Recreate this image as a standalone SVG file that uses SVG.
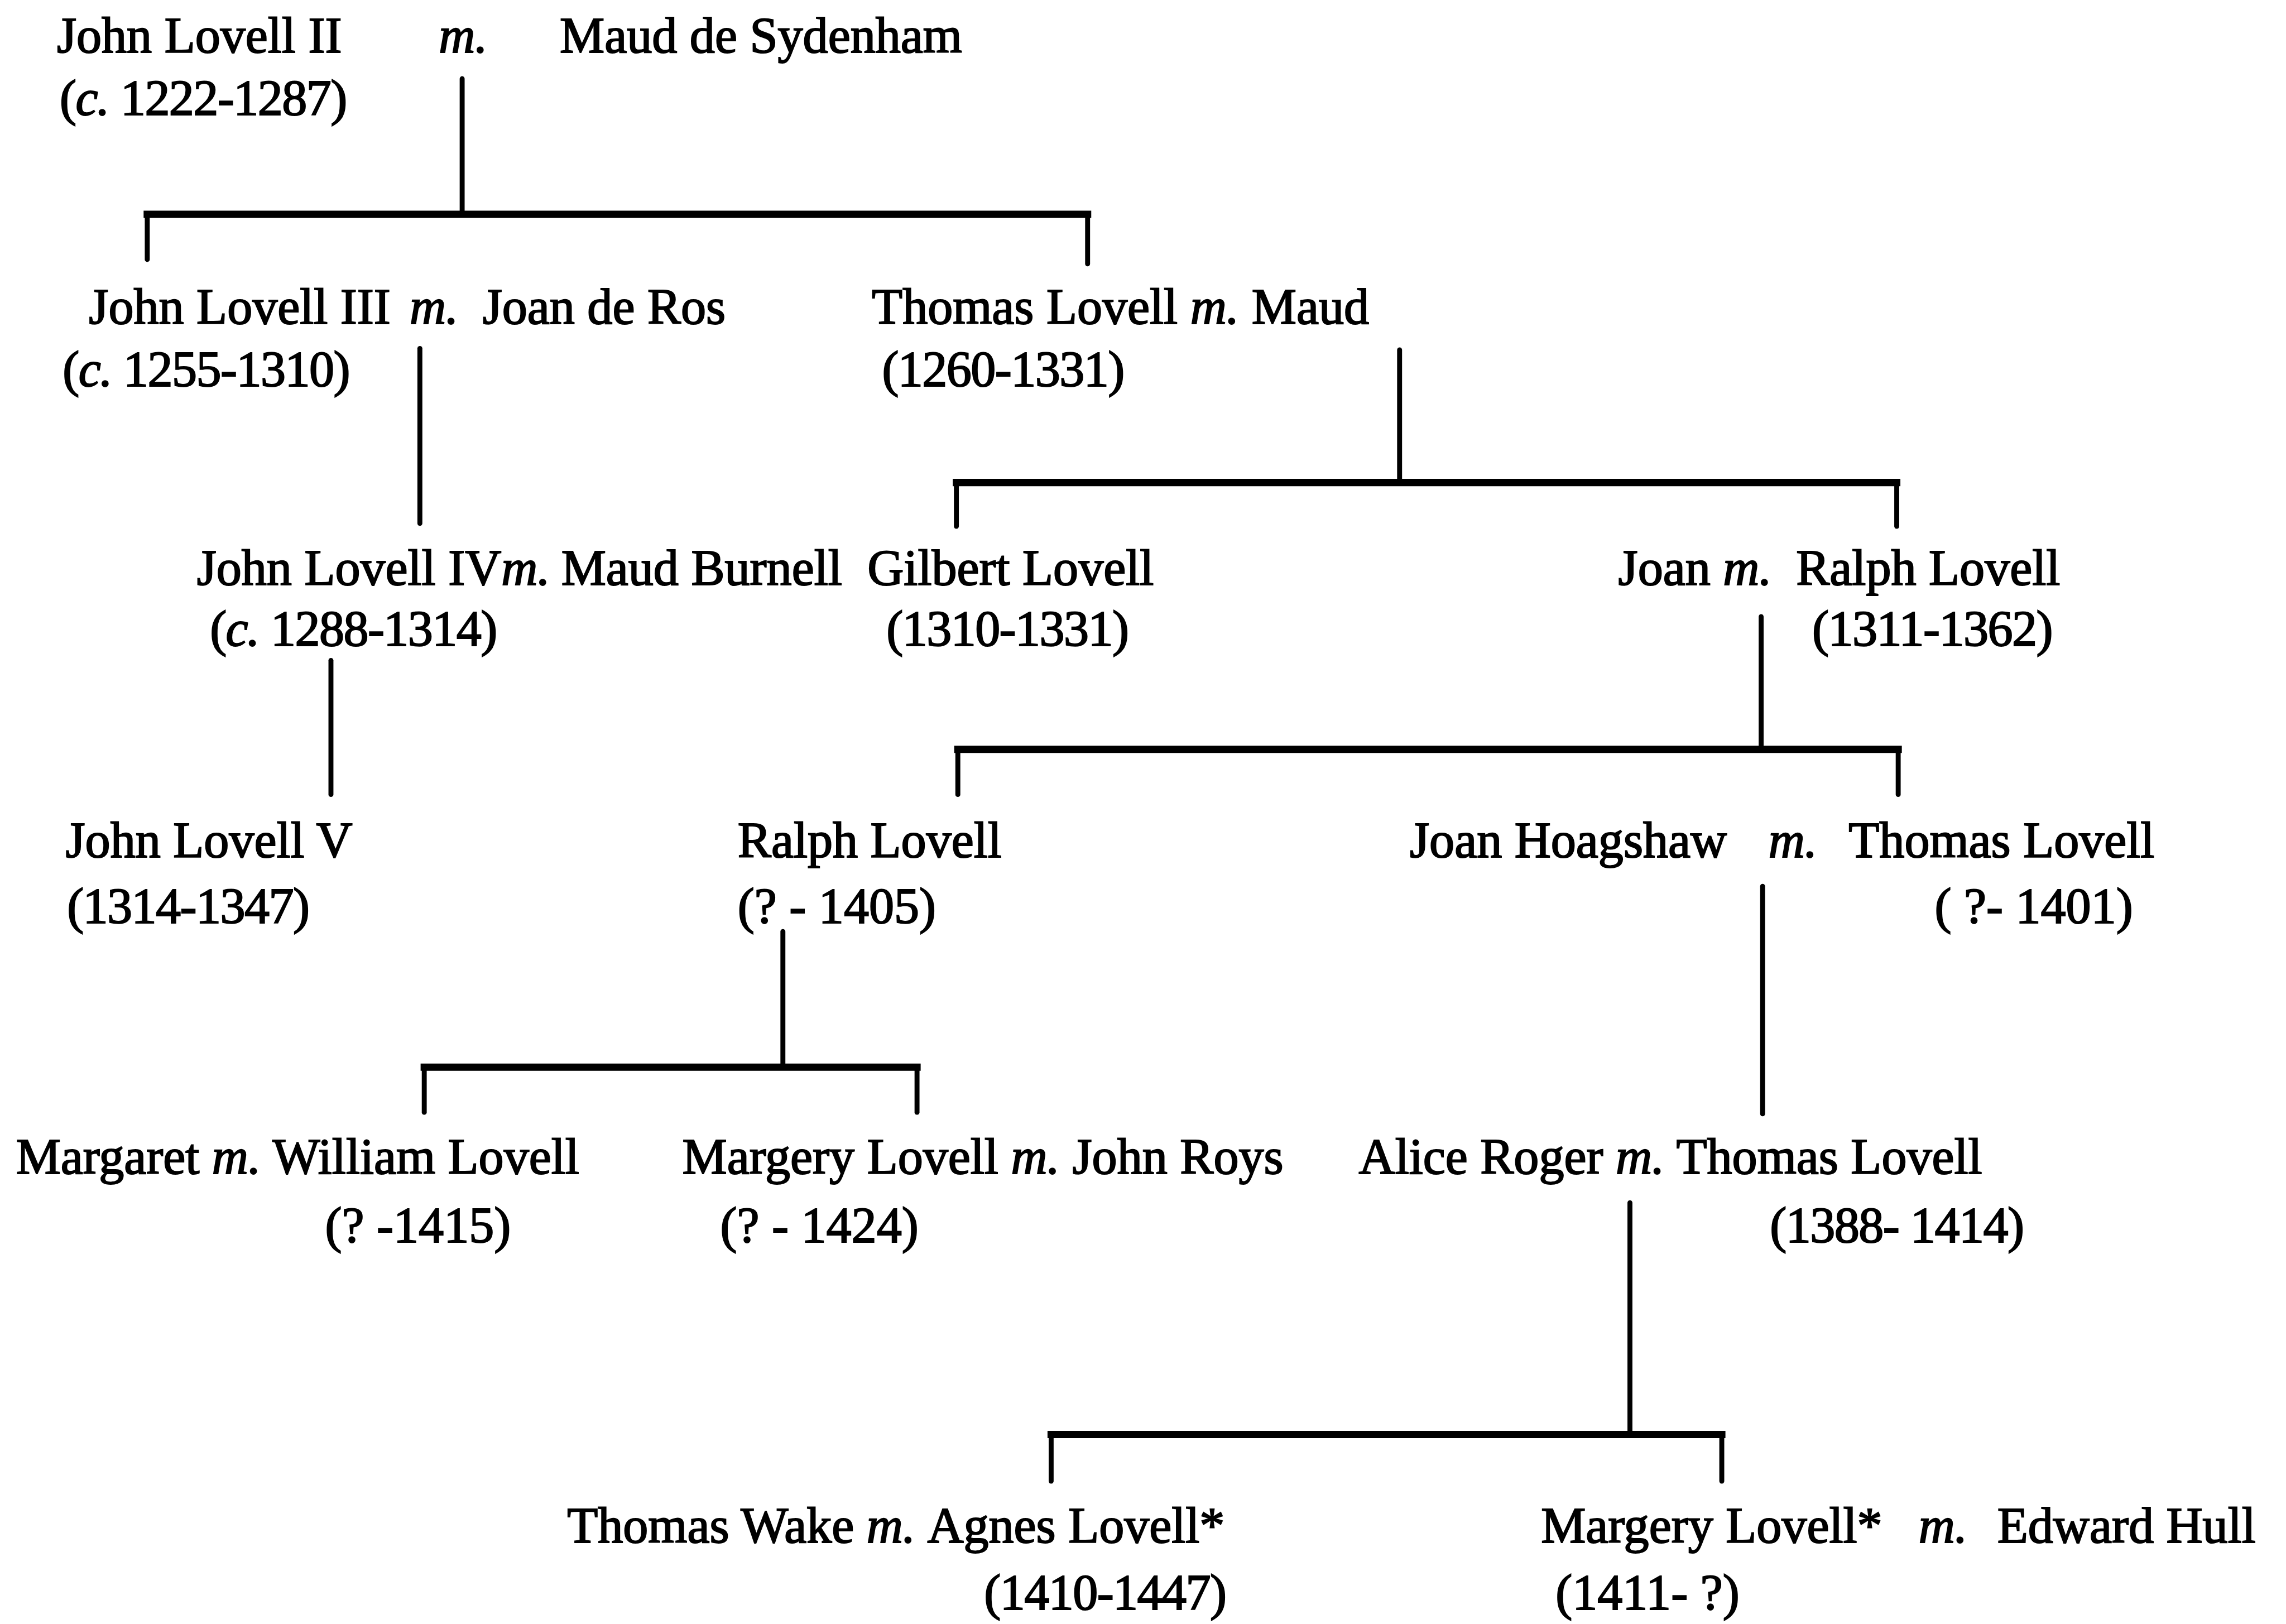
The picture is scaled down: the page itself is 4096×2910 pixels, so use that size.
<svg xmlns="http://www.w3.org/2000/svg" width="4096" height="2910" viewBox="0 0 4096 2910">
<style>
text{font-family:"Liberation Serif","Times New Roman",serif;font-size:34.5px;fill:#000;stroke:#000;stroke-width:0.8px}
.i{font-style:italic}
.d{letter-spacing:-0.6px}
.v{stroke:#000;stroke-width:3.4px;fill:none;stroke-linecap:round}
.h{stroke:#000;stroke-width:5px;fill:none;stroke-linecap:square}
</style>
<rect width="4096" height="2910" fill="#fff"/>
<g transform="scale(2.61224)">
<g id="connectors">
<line class="v" x1="317" y1="54" x2="317" y2="147"/>
<line class="h" x1="101" y1="147" x2="746" y2="147"/>
<line class="v" x1="101" y1="147" x2="101" y2="178"/>
<line class="v" x1="746" y1="147" x2="746" y2="181"/>
<line class="v" x1="288" y1="239" x2="288" y2="359"/>
<line class="v" x1="960" y1="240" x2="960" y2="331"/>
<line class="h" x1="656" y1="331" x2="1301" y2="331"/>
<line class="v" x1="656" y1="331" x2="656" y2="361"/>
<line class="v" x1="1301" y1="331" x2="1301" y2="361"/>
<line class="v" x1="227" y1="453" x2="227" y2="545"/>
<line class="v" x1="1208" y1="423" x2="1208" y2="514"/>
<line class="h" x1="657" y1="514" x2="1302" y2="514"/>
<line class="v" x1="657" y1="514" x2="657" y2="545"/>
<line class="v" x1="1302" y1="514" x2="1302" y2="545"/>
<line class="v" x1="537" y1="639" x2="537" y2="732"/>
<line class="h" x1="291" y1="732" x2="629" y2="732"/>
<line class="v" x1="291" y1="732" x2="291" y2="763"/>
<line class="v" x1="629" y1="732" x2="629" y2="763"/>
<line class="v" x1="1209" y1="608" x2="1209" y2="764"/>
<line class="v" x1="1118" y1="825" x2="1118" y2="984"/>
<line class="h" x1="721" y1="984" x2="1181" y2="984"/>
<line class="v" x1="721" y1="984" x2="721" y2="1016"/>
<line class="v" x1="1181" y1="984" x2="1181" y2="1016"/>
</g>
<g id="john2">
<text x="39" y="36">John Lovell II</text>
<text x="301" y="36" class="i">m.</text>
<text x="384" y="36">Maud de Sydenham</text>
<text x="41" y="79" class="d">(<tspan class="i">c.</tspan> 1222-1287)</text>
</g>
<g id="john3">
<text x="61" y="222">John Lovell III</text>
<text x="281" y="222" class="i">m.</text>
<text x="331" y="222">Joan de Ros</text>
<text x="43" y="265" class="d">(<tspan class="i">c.</tspan> 1255-1310)</text>
</g>
<g id="thomas1">
<text x="598" y="222">Thomas Lovell <tspan class="i">m.</tspan> Maud</text>
<text x="605" y="265" class="d">(1260-1331)</text>
</g>
<g id="john4">
<text x="135" y="401">John Lovell IV<tspan class="i">m.</tspan></text>
<text x="385" y="401">Maud Burnell</text>
<text x="144" y="443" class="d">(<tspan class="i">c.</tspan> 1288-1314)</text>
</g>
<g id="gilbert">
<text x="595" y="401">Gilbert Lovell</text>
<text x="608" y="443" class="d">(1310-1331)</text>
</g>
<g id="joan-ralph">
<text x="1110" y="401">Joan <tspan class="i">m.</tspan></text>
<text x="1232" y="401">Ralph Lovell</text>
<text x="1243" y="443" class="d">(1311-1362)</text>
</g>
<g id="john5">
<text x="45" y="588">John Lovell V</text>
<text x="46" y="633" class="d">(1314-1347)</text>
</g>
<g id="ralph2">
<text x="506" y="588">Ralph Lovell</text>
<text x="506" y="633">(? - 1405)</text>
</g>
<g id="thomas2">
<text x="967" y="588">Joan Hoagshaw</text>
<text x="1213" y="588" class="i">m.</text>
<text x="1268" y="588">Thomas Lovell</text>
<text x="1327" y="633">( ?- 1401)</text>
</g>
<g id="william">
<text x="11" y="805">Margaret <tspan class="i">m.</tspan> William Lovell</text>
<text x="223" y="852">(? -1415)</text>
</g>
<g id="margery1">
<text x="468" y="805">Margery Lovell <tspan class="i">m.</tspan> John Roys</text>
<text x="494" y="852">(? - 1424)</text>
</g>
<g id="thomas3">
<text x="932" y="805">Alice Roger <tspan class="i">m.</tspan> Thomas Lovell</text>
<text x="1214" y="852" class="d">(1388- 1414)</text>
</g>
<g id="agnes">
<text x="389" y="1058">Thomas Wake <tspan class="i">m.</tspan></text>
<text x="636" y="1058">Agnes Lovell*</text>
<text x="675" y="1104" class="d">(1410-1447)</text>
</g>
<g id="margery2">
<text x="1057" y="1058">Margery Lovell*</text>
<text x="1316" y="1058" class="i">m.</text>
<text x="1370" y="1058">Edward Hull</text>
<text x="1067" y="1104">(1411- ?)</text>
</g>
</g>
</svg>
